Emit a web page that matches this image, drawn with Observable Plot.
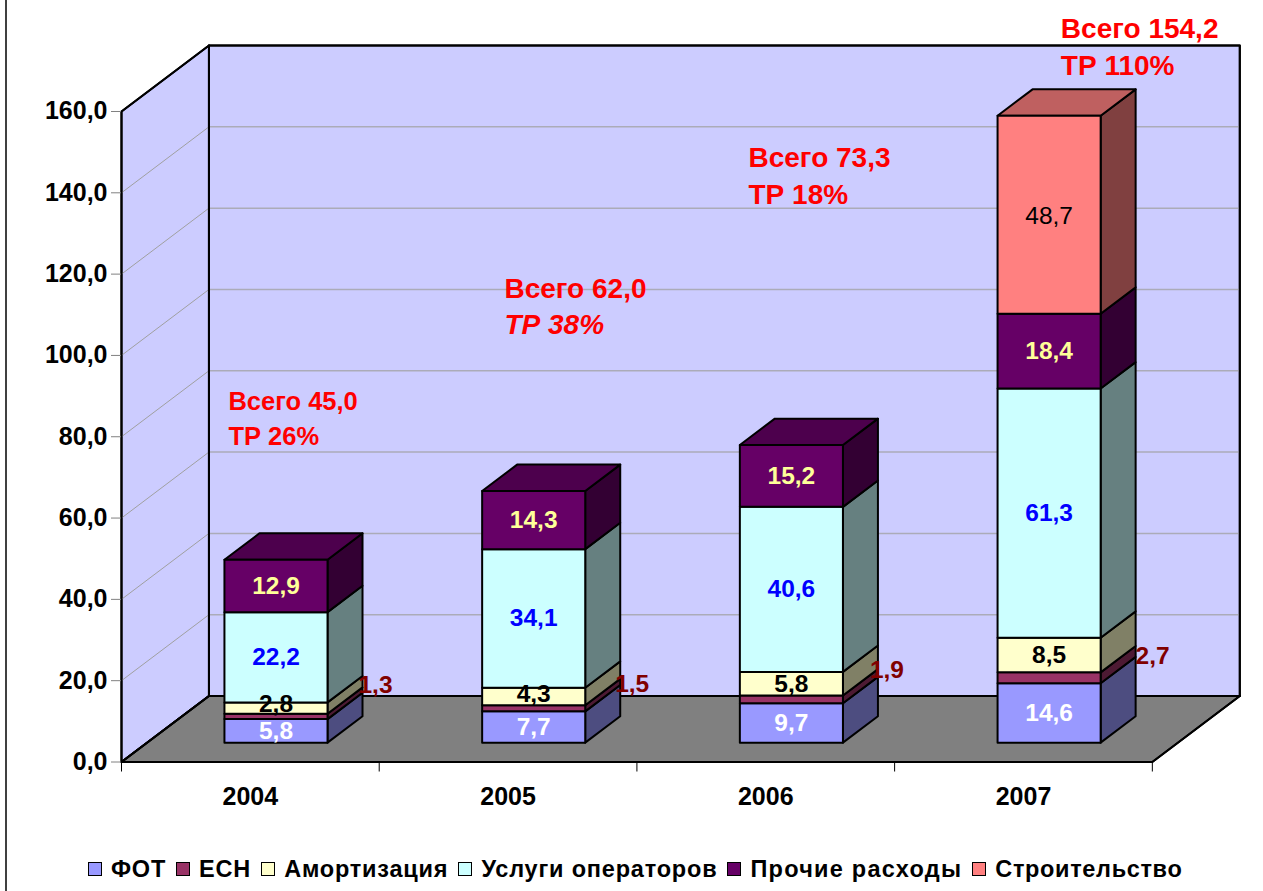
<!DOCTYPE html>
<html lang="ru">
<head>
<meta charset="utf-8">
<script src="https://cdn.jsdelivr.net/npm/d3@7"></script>
<script src="https://cdn.jsdelivr.net/npm/@observablehq/plot@0.6"></script>
<style>
  html,body{margin:0;padding:0;background:#fff;font-family:"Liberation Sans",Arial,sans-serif;}
  #wrap{position:relative;width:1263px;height:891px;overflow:hidden;}
  #edge{position:absolute;left:5px;top:0;width:2px;height:891px;background:#404040;}
  #chart svg{display:block;}
  #legend{position:absolute;left:88px;top:850px;height:38px;display:flex;align-items:center;white-space:nowrap;font-weight:700;font-size:23.5px;letter-spacing:.8px;color:#000;}
  #legend .it{display:flex;align-items:center;}
  #legend i{display:block;width:12px;height:12px;border:1.5px solid #000;margin-right:9px;box-sizing:content-box;}
</style>
</head>
<body>
<div id="wrap"><div id="edge"></div><div id="chart"></div><div id="legend"></div></div>
<script>
const years = ["2004","2005","2006","2007"];
const seriesNames = ["ФОТ","ЕСН","Амортизация","Услуги операторов","Прочие расходы","Строительство"];
const fot      = [5.8, 7.7, 9.7, 14.6];
const esn      = [1.3, 1.5, 1.9, 2.7];
const amort    = [2.8, 4.3, 5.8, 8.5];
const uslugi   = [22.2, 34.1, 40.6, 61.3];
const prochie  = [12.9, 14.3, 15.2, 18.4];
const stroy    = [0, 0, 0, 48.7];
const yTicks   = [0,20,40,60,80,100,120,140,160];
const totalLabels = ["Всего 45,0","Всего 62,0","Всего 73,3","Всего 154,2"];
const trLabels    = ["ТР 26%","ТР 38%","ТР 18%","ТР 110%"];

// styling
const frontColors = ["#9999FF","#993366","#FFFFCC","#CCFFFF","#660066","#FF8080"];
const sideColors  = ["#4D4D80","#4D1A33","#808066","#668080","#330033","#804040"];
const topColors   = ["#7373BF","#732640","#BFBF99","#99BFBF","#4D004D","#BF6060"];
const labelColors = ["#FFFFFF","#800000","#000000","#0000FF","#FFFF99","#000000"];
const legendTracking = [0.8,0.8,0.8,0.8,1.25,0.65];

// layout of the oblique projection, in scale units
const W = 1263, H = 850;
const step = 257.8, pxPerUnit = 4.066;
const DX = 87.5/step, DY = 66/pxPerUnit;          // full floor depth
const dFront = 0.293, dBack = 0.693;              // bar position in depth
const barL = 0.3, barR = 0.7;                     // bar position in its band
const px = d => d/step, pv = d => d/pxPerUnit;
const P = (cat, depth, v) => ({x: cat + depth*DX, y: v + depth*DY});
const poly = (id, fill, pts) => pts.map(p => ({id, fill, x:p.x, y:p.y}));
const fmt = v => v.toFixed(1).replace(".",",");

const values = [fot, esn, amort, uslugi, prochie, stroy];
const yTop = 160, nCat = years.length;

// walls and floor
const shell = [
  ...poly("side","#CCCCFF",[P(0,0,0),P(0,1,0),P(0,1,yTop),P(0,0,yTop)]),
  ...poly("back","#CCCCFF",[P(0,1,0),P(nCat,1,0),P(nCat,1,yTop),P(0,1,yTop)]),
  ...poly("floor","#808080",[P(0,0,0),P(nCat,0,0),P(nCat,1,0),P(0,1,0)])
];
const grid = yTicks.filter(v => v>0 && v<yTop);
const sideGrid = grid.map(v => {const a=P(0,0,v),b=P(0,1,v);return {x1:a.x,y1:a.y,x2:b.x,y2:b.y};});
const backGrid = grid.map(v => {const a=P(0,1,v),b=P(nCat,1,v);return {x1:a.x,y1:a.y,x2:b.x,y2:b.y};});

// bars
const faces = [], labels = [];
years.forEach((yr,i) => {
  let base = 0;
  const last = values.reduce((m,s,k)=> s[i]>0 ? k : m, 0);
  values.forEach((s,k) => {
    const v = s[i]; if (!v) return;
    const top = base + v, L = i+barL, R = i+barR;
    faces.push(...poly(`${i}-${k}-s`, sideColors[k],[P(R,dFront,base),P(R,dBack,base),P(R,dBack,top),P(R,dFront,top)]));
    if (k===last) faces.push(...poly(`${i}-${k}-t`, topColors[k],[P(L,dFront,top),P(R,dFront,top),P(R,dBack,top),P(L,dBack,top)]));
    faces.push(...poly(`${i}-${k}-f`, frontColors[k],[P(L,dFront,base),P(R,dFront,base),P(R,dFront,top),P(L,dFront,top)]));
    labels.push({cat:i, k, text:fmt(v), mid:base+v/2});
    base = top;
  });
});
const esnNudge = [[13,-5],[12,2],[9,-3],[17,5]];   // pixels, beside the side face
const amortNudge = [-4,-2,0,0];                    // pixels, upward shift of small labels
const labelPts = labels.map(l => {
  let p = P(l.cat+0.5, dFront, l.mid);
  if (l.k===1){ p = P(l.cat+barR, dBack, l.mid); p.x += px(esnNudge[l.cat][0]); p.y -= pv(esnNudge[l.cat][1]); }
  if (l.k===2){ p.y -= pv(amortNudge[l.cat]); }
  return {...l, x:p.x, y:p.y, fill:labelColors[l.k]};
});

// annotation placement (category units, value units)
const annotX = [0.415, 1.486, 2.433, 3.645];
const annotY1 = [88.5, 116.45, 148.65, 180.25];
const annotY2 = [79.9, 107.55, 139.55, 171.15];
const ann = (i) => ({i, x:annotX[i], y1:annotY1[i], y2:annotY2[i], t:totalLabels[i], r:trLabels[i]});
const annSmall = [ann(0)], annLarge = [ann(1),ann(2),ann(3)];
const RED = "#FF0000";

const chart = Plot.plot({
  width:W, height:H,
  marginLeft:121, marginRight:W-1239.3, marginTop:45, marginBottom:H-761.5,
  x:{type:"linear", domain:[0,nCat+DX], axis:null},
  y:{type:"linear", domain:[0,yTop+DY], axis:null},
  color:{type:"identity"},
  style:{fontFamily:"'Liberation Sans',Arial,sans-serif", background:"transparent", overflow:"visible"},
  marks:[
    Plot.line(shell,{x:"x",y:"y",z:"id",fill:"fill",stroke:"#000",strokeWidth:2,curve:"linear-closed"}),
    Plot.link(sideGrid,{x1:"x1",y1:"y1",x2:"x2",y2:"y2",stroke:"#A0A0A0",strokeWidth:1}),
    Plot.link(backGrid,{x1:"x1",y1:"y1",x2:"x2",y2:"y2",stroke:"#ABABB8",strokeWidth:1.5}),
    Plot.line(shell.filter(d=>d.id==="side"||d.id==="back"),{x:"x",y:"y",z:"id",stroke:"#000",strokeWidth:2,curve:"linear-closed"}),
    Plot.line(shell.filter(d=>d.id==="floor"),{x:"x",y:"y",z:"id",stroke:"#000",strokeWidth:2,curve:"linear-closed"}),
    Plot.axisY({ticks:yTicks, anchor:"left", tickSize:10, tickPadding:4, tickFormat:fmt, label:null,
      stroke:"#808080", fill:"#000", fontSize:25, fontWeight:700}),
    Plot.axisX({ticks:[0,1,2,3,4], anchor:"bottom", tickSize:10, tickFormat:()=>"", label:null, stroke:"#000"}),
    Plot.text(years.map((t,i)=>({t,i})),{x:d=>d.i+0.5,y:()=>0,dy:35,text:"t",fill:"#000",
      fontSize:25,fontWeight:700}),
    Plot.line(faces,{x:"x",y:"y",z:"id",fill:"fill",stroke:"#000",strokeWidth:2,curve:"linear-closed"}),
    Plot.text(labelPts.filter(d=>d.k!==5),{x:"x",y:"y",text:"text",fill:"fill",fontSize:24.5,fontWeight:700}),
    Plot.text(labelPts.filter(d=>d.k===5),{x:"x",y:"y",text:"text",fill:"fill",fontSize:24.5,dy:1.5}),
    Plot.text(annSmall,{x:"x",y:"y1",text:"t",textAnchor:"start",fill:RED,fontSize:25.5,fontWeight:700}),
    Plot.text(annSmall,{x:"x",y:"y2",text:"r",textAnchor:"start",fill:RED,fontSize:25.5,fontWeight:700}),
    Plot.text(annLarge,{x:"x",y:"y1",text:"t",textAnchor:"start",fill:RED,fontSize:28,fontWeight:700}),
    Plot.text(annLarge.filter(d=>d.i!==1),{x:"x",y:"y2",text:"r",textAnchor:"start",fill:RED,fontSize:28,fontWeight:700}),
    Plot.text(annLarge.filter(d=>d.i===1),{x:"x",y:"y2",text:"r",textAnchor:"start",fill:RED,fontSize:28,fontWeight:700,fontStyle:"italic"})
  ]
});
document.getElementById("chart").appendChild(chart);

const legend = document.getElementById("legend");
seriesNames.forEach((n,k)=>{
  const it=document.createElement("div"); it.className="it";
  it.style.marginRight = k<seriesNames.length-1 ? "10px" : "0";
  const sw=document.createElement("i"); sw.style.background=frontColors[k];
  const s=document.createElement("span"); s.textContent=n; s.style.letterSpacing=legendTracking[k]+"px";
  it.append(sw,s); legend.append(it);
});
</script>
</body>
</html>
